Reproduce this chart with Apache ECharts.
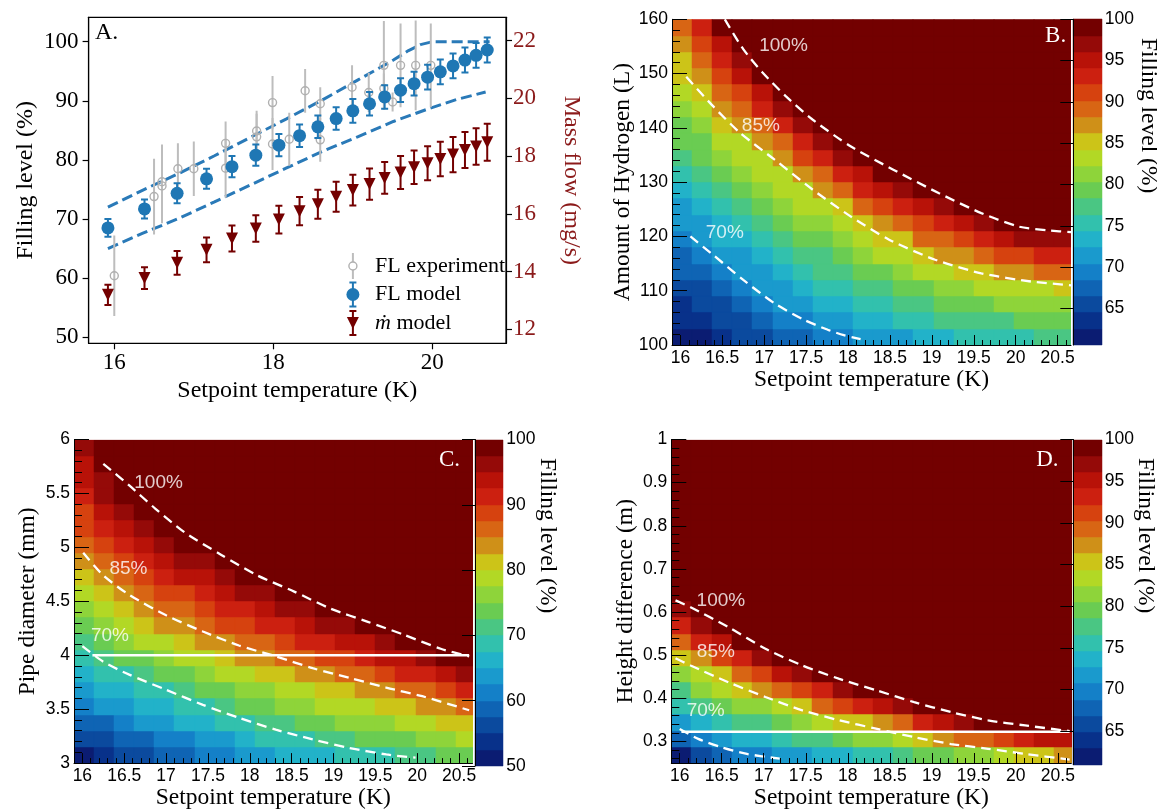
<!DOCTYPE html>
<html><head><meta charset="utf-8">
<script src="https://cdn.jsdelivr.net/npm/echarts@6/dist/echarts.min.js"></script>
<style>html,body{margin:0;padding:0;background:#fff;}#c{width:1157px;height:811px;}</style>
</head><body><div id="c"></div>
<script>
// ---------------- Panel A data ----------------
const modelT = [15.92,16.38,16.79,17.16,17.48,17.78,18.07,18.33,18.56,18.79,19.00,19.21,19.40,19.60,19.77,19.94,20.10,20.26,20.41,20.55,20.69];
const flModel = [68.5,71.7,74.35,76.8,78.85,80.8,82.5,84.1,85.6,87.0,88.3,89.5,90.65,91.8,92.9,94.0,94.9,95.9,96.9,97.7,98.6];
const flModelErr = [1.5,1.6,1.7,1.7,1.8,1.8,1.9,1.9,1.9,1.9,2.0,2.0,2.0,2.0,2.0,2.1,2.1,2.1,2.1,2.1,2.1];
const massFlow = [13.19,13.77,14.30,14.75,15.14,15.49,15.80,16.09,16.33,16.59,16.82,17.03,17.24,17.43,17.61,17.75,17.90,18.05,18.21,18.33,18.48];
const massFlowErr = [0.35,0.38,0.41,0.43,0.45,0.46,0.48,0.49,0.50,0.52,0.53,0.54,0.55,0.57,0.58,0.59,0.60,0.61,0.62,0.63,0.64];
const expT = [16.00,16.50,16.60,16.60,16.80,17.00,17.40,17.40,17.79,17.79,17.99,17.99,18.20,18.40,18.59,18.59,18.99,19.20,19.39,19.39,19.50,19.60,19.79,19.98];
const expFL = [60.4,73.8,75.6,76.3,78.5,78.5,78.6,82.8,83.9,84.9,82.7,89.7,83.5,91.7,83.4,89.5,92.3,91.4,92.1,96.0,89.8,96.0,96.0,96.0];
const expErr = [6.8,6.4,6.3,6.3,4.3,4.6,5.0,3.7,3.9,3.4,4.4,4.5,4.5,3.7,3.7,2.8,3.7,3.3,2.5,7.5,1.6,7.1,7.6,7.1];
const upperBandT = [15.92,16.36,16.81,17.26,17.71,18.16,18.61,19.06,19.51,19.70,19.85,20.00,20.72];
const upperBandFL = [72.0,74.9,77.7,80.7,83.8,86.9,90.1,93.5,96.9,98.5,99.5,100,100];
const lowerBandT = [15.92,16.36,16.81,17.26,17.71,18.16,18.61,19.06,19.51,19.96,20.30,20.67];
const lowerBandFL = [65.0,67.6,70.1,72.9,75.75,78.6,81.4,83.9,86.5,88.7,90.2,91.5];
const aXTicks = [16,18,20];
const aYTicks = [50,60,70,80,90,100];
const aY2Ticks = [12,14,16,18,20,22];

// ---------------- Heatmap data ----------------
const tempCols = [16.02,16.26,16.50,16.74,16.98,17.22,17.46,17.70,17.94,18.18,18.42,18.66,18.90,19.14,19.38,19.62,19.86,20.10,20.34,20.58];
const hydrogenRows = [101.5,104.5,107.5,110.5,113.5,116.5,119.5,122.5,125.5,128.5,131.5,134.5,137.5,140.5,143.5,146.5,149.5,152.5,155.5,158.5];
const fillB = [
[61.4,62.2,63.3,64.7,66.1,67.4,68.3,69.0,69.8,70.5,71.5,72.4,73.3,74.0,74.7,75.3,75.8,76.2,76.6,76.8],
[62.7,63.6,64.8,66.2,67.6,68.9,69.9,70.8,71.8,72.6,73.7,74.6,75.6,76.4,77.1,77.8,78.3,78.7,79.1,79.4],
[64.1,65.0,66.3,67.7,69.1,70.5,71.7,72.6,73.7,74.7,75.9,76.8,77.9,78.8,79.6,80.3,80.9,81.3,81.7,81.9],
[65.4,66.4,67.8,69.2,70.7,72.1,73.4,74.5,75.7,76.8,78.1,79.1,80.2,81.2,82.0,82.8,83.4,83.8,84.2,84.5],
[66.7,67.8,69.3,70.8,72.3,73.8,75.2,76.4,77.7,78.9,80.2,81.3,82.5,83.6,84.4,85.5,86.6,87.4,88.2,88.7],
[68.0,69.2,70.8,72.4,74.0,75.5,77.0,78.3,79.6,81.0,82.4,83.5,84.8,86.5,88.0,89.6,90.9,91.9,92.7,93.3],
[69.3,70.7,72.5,74.1,75.7,77.2,78.8,80.2,81.6,83.1,84.6,86.2,88.3,90.1,91.9,93.6,95.2,96.4,97.3,97.9],
[70.8,72.3,74.2,75.8,77.4,78.9,80.6,82.1,83.6,85.2,87.9,89.7,91.8,93.8,95.7,97.7,99.6,100,100,100],
[72.3,73.9,75.9,77.4,79.0,80.6,82.3,83.9,85.9,88.8,91.3,93.2,95.4,97.4,99.6,100,100,100,100,100],
[73.8,75.5,77.6,79.1,80.7,82.3,84.1,86.5,89.5,92.3,94.8,96.7,98.9,100,100,100,100,100,100,100],
[75.3,77.1,79.3,80.7,82.4,84.0,86.8,90.0,93.0,95.9,98.3,100,100,100,100,100,100,100,100,100],
[76.9,78.7,81.0,82.4,84.1,86.4,90.3,93.5,96.5,99.4,100,100,100,100,100,100,100,100,100,100],
[78.4,80.3,82.7,84.1,86.4,89.8,93.8,97.0,100,100,100,100,100,100,100,100,100,100,100,100],
[79.9,82.0,84.4,86.3,89.6,93.2,97.3,100,100,100,100,100,100,100,100,100,100,100,100,100],
[81.4,83.6,86.5,89.2,92.8,96.7,100,100,100,100,100,100,100,100,100,100,100,100,100,100],
[83.0,85.2,88.9,92.1,96.0,100,100,100,100,100,100,100,100,100,100,100,100,100,100,100],
[84.5,87.2,91.3,95.0,99.2,100,100,100,100,100,100,100,100,100,100,100,100,100,100,100],
[86.0,89.1,93.7,97.9,100,100,100,100,100,100,100,100,100,100,100,100,100,100,100,100],
[87.5,91.1,96.0,100,100,100,100,100,100,100,100,100,100,100,100,100,100,100,100,100],
[89.1,93.1,98.4,100,100,100,100,100,100,100,100,100,100,100,100,100,100,100,100,100]
];
const pipeRows = [3.075,3.225,3.375,3.525,3.675,3.825,3.975,4.125,4.275,4.425,4.575,4.725,4.875,5.025,5.175,5.325,5.475,5.625,5.775,5.925];
const fillC = [
[52.3,54.4,55.5,56.5,57.6,58.8,60.2,61.7,63.2,64.4,65.5,66.5,67.3,68.4,69.2,69.9,70.4,71.4,73.0,74.5],
[55.0,57.1,58.3,59.5,60.7,61.9,63.4,64.9,66.3,67.6,68.6,69.7,70.6,71.7,72.7,73.5,74.3,75.4,76.9,78.4],
[57.6,59.8,61.2,62.5,63.7,65.1,66.5,68.0,69.5,70.8,71.9,73.1,74.0,75.2,76.1,77.1,78.2,79.3,80.7,82.3],
[60.2,62.5,64.0,65.5,66.8,68.2,69.7,71.2,72.8,74.1,75.3,76.5,77.5,78.7,79.6,80.8,82.0,83.3,84.6,86.3],
[62.9,65.2,66.9,68.5,69.9,71.4,73.0,74.6,76.2,77.4,78.6,79.9,81.0,82.1,83.1,84.4,86.0,87.4,89.0,90.7],
[65.5,67.9,69.7,71.6,73.1,74.7,76.3,78.0,79.5,80.7,82.0,83.3,84.4,85.6,86.7,88.4,90.2,91.8,93.4,95.1],
[68.2,70.7,72.7,74.7,76.4,77.9,79.6,81.3,82.9,84.0,85.3,86.7,88.1,89.4,90.8,92.5,94.5,96.1,97.8,99.6],
[70.8,73.5,75.7,77.8,79.7,81.2,82.9,84.7,86.1,87.3,88.7,90.2,91.8,93.3,94.8,96.6,98.7,100,100,100],
[73.4,76.4,78.7,80.9,82.9,84.4,86.0,87.7,89.2,90.6,92.2,93.7,95.5,97.1,98.8,100,100,100,100,100],
[76.0,79.2,81.7,84.0,85.9,87.2,88.9,90.6,92.3,94.0,95.6,97.1,99.1,100,100,100,100,100,100,100],
[78.6,82.1,84.7,86.6,88.3,89.9,91.7,93.6,95.4,97.3,99.0,100,100,100,100,100,100,100,100,100],
[81.2,84.9,87.0,88.9,90.8,92.6,94.6,96.5,98.4,100,100,100,100,100,100,100,100,100,100,100],
[83.9,87.1,89.2,91.2,93.2,95.3,97.4,99.5,100,100,100,100,100,100,100,100,100,100,100,100],
[86.0,89.3,91.4,93.5,95.7,98.0,100,100,100,100,100,100,100,100,100,100,100,100,100,100],
[87.8,91.4,93.6,95.8,98.1,100,100,100,100,100,100,100,100,100,100,100,100,100,100,100],
[89.6,93.6,95.8,98.1,100,100,100,100,100,100,100,100,100,100,100,100,100,100,100,100],
[91.4,95.7,98.0,100,100,100,100,100,100,100,100,100,100,100,100,100,100,100,100,100],
[93.2,96.9,100,100,100,100,100,100,100,100,100,100,100,100,100,100,100,100,100,100],
[94.9,97.6,100,100,100,100,100,100,100,100,100,100,100,100,100,100,100,100,100,100],
[96.7,98.5,100,100,100,100,100,100,100,100,100,100,100,100,100,100,100,100,100,100]
];
const heightRows = [0.26875,0.30625,0.34375,0.38125,0.41875,0.45625,0.49375,0.53125,0.56875,0.60625,0.64375,0.68125,0.71875,0.75625,0.79375,0.83125,0.86875,0.90625,0.94375,0.98125];
const fillD = [
[61.6,65.5,67.9,69.4,70.5,71.4,72.4,73.4,74.4,75.4,76.5,77.6,78.8,80.0,81.1,82.1,83.2,84.5,85.9,87.0],
[67.0,70.3,71.9,73.2,74.5,75.6,77.0,78.2,79.5,80.7,82.1,83.5,85.0,86.9,88.4,90.0,91.5,93.0,94.4,95.5],
[71.5,73.7,75.4,76.9,78.4,79.8,81.6,83.0,84.6,86.1,88.0,90.0,92.2,94.4,96.2,98.4,100,100,100,100],
[75.0,77.2,79.0,80.6,82.4,84.0,86.3,88.3,90.4,92.3,94.4,96.8,99.3,100,100,100,100,100,100,100],
[78.4,80.6,82.5,84.4,86.7,89.0,91.7,94.0,96.2,98.5,100,100,100,100,100,100,100,100,100,100],
[81.9,84.0,86.3,88.9,91.7,94.3,97.1,99.6,100,100,100,100,100,100,100,100,100,100,100,100],
[85.4,88.0,90.7,93.6,96.6,99.5,100,100,100,100,100,100,100,100,100,100,100,100,100,100],
[89.6,92.2,95.1,98.3,100,100,100,100,100,100,100,100,100,100,100,100,100,100,100,100],
[93.7,96.4,99.5,100,100,100,100,100,100,100,100,100,100,100,100,100,100,100,100,100],
[97.9,100,100,100,100,100,100,100,100,100,100,100,100,100,100,100,100,100,100,100],
[100,100,100,100,100,100,100,100,100,100,100,100,100,100,100,100,100,100,100,100],
[100,100,100,100,100,100,100,100,100,100,100,100,100,100,100,100,100,100,100,100],
[100,100,100,100,100,100,100,100,100,100,100,100,100,100,100,100,100,100,100,100],
[100,100,100,100,100,100,100,100,100,100,100,100,100,100,100,100,100,100,100,100],
[100,100,100,100,100,100,100,100,100,100,100,100,100,100,100,100,100,100,100,100],
[100,100,100,100,100,100,100,100,100,100,100,100,100,100,100,100,100,100,100,100],
[100,100,100,100,100,100,100,100,100,100,100,100,100,100,100,100,100,100,100,100],
[100,100,100,100,100,100,100,100,100,100,100,100,100,100,100,100,100,100,100,100],
[100,100,100,100,100,100,100,100,100,100,100,100,100,100,100,100,100,100,100,100],
[100,100,100,100,100,100,100,100,100,100,100,100,100,100,100,100,100,100,100,100]
];
// contour lines
const contourB100 = [[16.53,160],[16.75,154.5],[16.98,150.2],[17.26,145.8],[17.58,141.5],[18.03,136.6],[18.54,132.3],[19.08,128],[19.59,124.3],[20.04,121.8],[20.40,121.1],[20.66,120.8]];
const contourB85 = [[16.07,149.4],[16.39,144],[16.71,139.1],[17.12,134.2],[17.58,128.6],[18.03,123.7],[18.49,119.4],[19.04,115.7],[19.59,113.2],[20.18,111.7],[20.66,111]];
const contourB70 = [[16.12,120],[16.39,116.6],[16.75,112],[17.12,107.7],[17.48,104.6],[17.76,102.8],[17.95,101.8],[18.15,101.1]];
const contourC100 = [[16.25,5.775],[16.56,5.574],[16.87,5.36],[17.22,5.14],[17.66,4.93],[18.09,4.74],[18.53,4.59],[18.97,4.43],[19.41,4.31],[19.84,4.19],[20.28,4.06],[20.62,3.99]];
const contourC85 = [[16.01,4.95],[16.25,4.74],[16.56,4.56],[17.0,4.37],[17.44,4.22],[17.87,4.09],[18.31,3.99],[18.75,3.88],[19.19,3.79],[19.63,3.70],[20.06,3.62],[20.62,3.49]];
const contourC70 = [[16.0,4.085],[16.25,3.94],[16.56,3.82],[17.0,3.68],[17.44,3.54],[17.87,3.42],[18.31,3.31],[18.75,3.22],[19.19,3.14],[19.63,3.08],[19.98,3.05]];
const lineC = [[16.12,4.0],[20.62,4.0]];
const contourD100 = [[15.95,0.627],[16.13,0.611],[16.58,0.565],[17.02,0.515],[17.46,0.476],[17.9,0.445],[18.35,0.418],[18.79,0.391],[19.23,0.368],[19.67,0.349],[20.11,0.337],[20.64,0.324]];
const contourD85 = [[15.95,0.493],[16.13,0.476],[16.58,0.437],[17.02,0.403],[17.46,0.372],[17.9,0.349],[18.35,0.329],[18.79,0.31],[19.23,0.294],[19.67,0.283],[20.11,0.271],[20.64,0.258]];
const contourD70 = [[16.0,0.329],[16.22,0.306],[16.49,0.287],[16.8,0.271],[17.19,0.26]];
const lineD = [[16.02,0.3225],[20.64,0.3225]];
const labelsB = [[17.23,155.1,'100%'],[16.96,140.4,'85%'],[16.53,120.7,'70%']];
const labelsC = [[16.91,5.596,'100%'],[16.55,4.80,'85%'],[16.33,4.18,'70%']];
const labelsD = [[16.49,0.625,'100%'],[16.43,0.507,'85%'],[16.31,0.372,'70%']];
// ticks
const hxMajor = [16,16.5,17,17.5,18,18.5,19,19.5,20,20.5];
const hxMinor = [16.1,16.2,16.3,16.4,16.6,16.7,16.8,16.9,17.1,17.2,17.3,17.4,17.6,17.7,17.8,17.9,18.1,18.2,18.3,18.4,18.6,18.7,18.8,18.9,19.1,19.2,19.3,19.4,19.6,19.7,19.8,19.9,20.1,20.2,20.3,20.4,20.6];
const byMajor = [100,110,120,130,140,150,160];
const byMinor = [102,104,106,108,112,114,116,118,122,124,126,128,132,134,136,138,142,144,146,148,152,154,156,158];
const cyMajor = [3,3.5,4,4.5,5,5.5,6];
const cyMinor = [3.1,3.2,3.3,3.4,3.6,3.7,3.8,3.9,4.1,4.2,4.3,4.4,4.6,4.7,4.8,4.9,5.1,5.2,5.3,5.4,5.6,5.7,5.8,5.9];
const dyMajor = [0.3,0.4,0.5,0.6,0.7,0.8,0.9,1];
const dyMinor = [0.26,0.28,0.32,0.34,0.36,0.38,0.42,0.44,0.46,0.48,0.52,0.54,0.56,0.58,0.62,0.64,0.66,0.68,0.72,0.74,0.76,0.78,0.82,0.84,0.86,0.88,0.92,0.94,0.96,0.98];
const cbTicksB = [65,70,75,80,85,90,95,100];
const cbTicksC = [50,60,70,80,90,100];
const cbTicksD = [65,70,75,80,85,90,95,100];

const palette = ['#0b1c72','#08318a','#0b4a9e','#0f64b4','#1480c8','#1a9acd','#22b2c9','#32c1ad','#4ac683','#6acc52','#8ed43a','#b2d825','#ccc418','#cf9018','#d86514','#d6420f','#cc2010','#b81208','#950a08','#730000'];

const SERIF = '"Liberation Serif", "DejaVu Serif", serif';
const SANS = '"Liberation Sans", Arial, sans-serif';
const fmt = v => String(Math.round(v * 100) / 100);

function colorFor(v, vmin, vmax) {
  let k = Math.floor((v - vmin) / (vmax - vmin) * palette.length);
  k = Math.max(0, Math.min(palette.length - 1, k));
  return palette[k];
}
function pixRect(a, b) {
  const x0 = Math.round(a[0]), y0 = Math.round(a[1]), x1 = Math.round(b[0]), y1 = Math.round(b[1]);
  return {x: x0, y: y0, width: x1 - x0, height: y1 - y0};
}
function heatSeries(xi, yi, rows, grid, dx, dy, vmin, vmax) {
  const data = [];
  rows.forEach((y, r) => tempCols.forEach((x, c) => data.push([x, y, grid[r][c]])));
  return {
    type: 'custom', xAxisIndex: xi, yAxisIndex: yi, clip: true, silent: true, z: 1,
    encode: {x: 0, y: 1}, data,
    renderItem: function (params, api) {
      const x = api.value(0), y = api.value(1), v = api.value(2);
      const a = api.coord([x - dx / 2, y + dy / 2]);
      const b = api.coord([x + dx / 2, y - dy / 2]);
      const c = colorFor(v, vmin, vmax);
      return {type: 'rect', shape: pixRect(a, b), style: {fill: c, stroke: c, lineWidth: 0.5}};
    }
  };
}
function colorbarSeries(xi, yi, vmin, vmax) {
  const step = (vmax - vmin) / palette.length;
  return {
    type: 'custom', xAxisIndex: xi, yAxisIndex: yi, silent: true, z: 1,
    encode: {x: 0, y: 1},
    data: palette.map((c, k) => [0.5, vmin + (k + 0.5) * step, k]),
    renderItem: function (params, api) {
      const k = api.value(2);
      const a = api.coord([0, vmin + (k + 1) * step]);
      const b = api.coord([1, vmin + k * step]);
      return {type: 'rect', shape: pixRect(a, b), style: {fill: palette[k], stroke: palette[k], lineWidth: 0.5}};
    }
  };
}
function contourSeries(xi, yi, pts, dashed) {
  return {type: 'line', xAxisIndex: xi, yAxisIndex: yi, data: pts, showSymbol: false, symbol: 'none', smooth: dashed ? 0.25 : false,
    silent: true, z: 5, lineStyle: {color: '#fff', width: 2.3, type: dashed ? [10, 6] : 'solid'}};
}
function labelSeries(xi, yi, labels) {
  return {type: 'scatter', xAxisIndex: xi, yAxisIndex: yi, symbolSize: 1, silent: true, z: 6,
    itemStyle: {color: 'rgba(0,0,0,0)'},
    data: labels.map(l => ({value: [l[0], l[1]], name: l[2]})),
    label: {show: true, position: 'inside', formatter: p => p.name, color: '#fff', fontFamily: SANS, fontSize: 19}};
}
function errSeries(xi, yi, xs, ys, es, color, cap, width, z) {
  return {type: 'custom', xAxisIndex: xi, yAxisIndex: yi, clip: true, silent: true, z: z,
    encode: {x: 0, y: [1, 2]},
    data: xs.map((x, i) => [x, ys[i] - es[i], ys[i] + es[i]]),
    renderItem: function (params, api) {
      const lo = api.coord([api.value(0), api.value(1)]);
      const hi = api.coord([api.value(0), api.value(2)]);
      const st = {stroke: color, lineWidth: width};
      const ch = [{type: 'line', shape: {x1: lo[0], y1: lo[1], x2: hi[0], y2: hi[1]}, style: st}];
      if (cap) {
        ch.push({type: 'line', shape: {x1: lo[0] - cap / 2, y1: lo[1], x2: lo[0] + cap / 2, y2: lo[1]}, style: st});
        ch.push({type: 'line', shape: {x1: hi[0] - cap / 2, y1: hi[1], x2: hi[0] + cap / 2, y2: hi[1]}, style: st});
      }
      return {type: 'group', children: ch};
    }};
}
function heatX(g, name, gap) {
  return [
    {gridIndex: g, type: 'value', min: 15.9, max: 20.66, position: 'bottom', z: 10,
      axisLine: {show: true, onZero: false, lineStyle: {color: '#000', width: 1}},
      axisTick: {show: true, inside: true, length: 10, customValues: hxMajor, lineStyle: {color: '#000', width: 1}},
      axisLabel: {show: true, customValues: hxMajor, margin: 4, color: '#000', fontFamily: SANS, fontSize: 17.5, formatter: fmt},
      splitLine: {show: false},
      name: name, nameLocation: 'middle', nameGap: gap, nameTextStyle: {fontFamily: SERIF, fontSize: 23.5, color: '#000'}},
    {gridIndex: g, type: 'value', min: 15.9, max: 20.66, position: 'bottom', z: 10,
      axisLine: {show: false}, axisLabel: {show: false}, splitLine: {show: false},
      axisTick: {show: true, inside: true, length: 5, customValues: hxMinor, lineStyle: {color: '#000', width: 1}}}
  ];
}
function heatY(g, min, max, major, minor, name, gap) {
  return [
    {gridIndex: g, type: 'value', min: min, max: max, position: 'left', z: 10,
      axisLine: {show: true, onZero: false, lineStyle: {color: '#000', width: 1}},
      axisTick: {show: true, inside: true, length: 15, customValues: major, lineStyle: {color: '#000', width: 1}},
      axisLabel: {show: true, customValues: major, margin: 4, color: '#000', fontFamily: SANS, fontSize: 17.5, formatter: fmt},
      splitLine: {show: false},
      name: name, nameLocation: 'middle', nameGap: gap, nameTextStyle: {fontFamily: SERIF, fontSize: 23.5, color: '#000'}},
    {gridIndex: g, type: 'value', min: min, max: max, position: 'left', z: 10,
      axisLine: {show: false}, axisLabel: {show: false}, splitLine: {show: false},
      axisTick: {show: true, inside: true, length: 8, customValues: minor, lineStyle: {color: '#000', width: 1}}}
  ];
}
function cbX(g) { return {gridIndex: g, type: 'value', min: 0, max: 1, show: false}; }
function cbY(g, vmin, ticks) {
  return {gridIndex: g, type: 'value', min: vmin, max: 100, position: 'right', z: 10,
    axisLine: {show: true, lineStyle: {color: '#000', width: 1}},
    axisTick: {show: true, inside: true, length: 13, customValues: ticks, lineStyle: {color: '#000', width: 1}},
    axisLabel: {show: true, customValues: ticks, margin: 3, color: '#000', fontFamily: SANS, fontSize: 17.5, formatter: fmt},
    splitLine: {show: false}};
}

const VB = 60.6, VC = 50, VD = 61;
const xAxes = [
  {gridIndex: 0, type: 'value', min: 15.677, max: 20.926, position: 'bottom',
    axisLine: {onZero: false, lineStyle: {color: '#000', width: 1.2}},
    axisTick: {customValues: aXTicks, length: 6, lineStyle: {color: '#000', width: 1.2}},
    axisLabel: {customValues: aXTicks, margin: 8, color: '#000', fontFamily: SERIF, fontSize: 23, formatter: fmt},
    splitLine: {show: false},
    name: 'Setpoint temperature (K)', nameLocation: 'middle', nameGap: 35, nameTextStyle: {fontFamily: SERIF, fontSize: 24, color: '#000'}},
  ...heatX(1, 'Setpoint temperature (K)', 23),
  cbX(2),
  ...heatX(3, 'Setpoint temperature (K)', 22),
  cbX(4),
  ...heatX(5, 'Setpoint temperature (K)', 23),
  cbX(6)
];
const yAxes = [
  {gridIndex: 0, type: 'value', min: 48.97, max: 104.13, position: 'left',
    axisLine: {onZero: false, lineStyle: {color: '#000', width: 1.2}},
    axisTick: {customValues: aYTicks, length: 6, lineStyle: {color: '#000', width: 1.2}},
    axisLabel: {customValues: aYTicks, margin: 10, color: '#000', fontFamily: SERIF, fontSize: 23, formatter: fmt},
    splitLine: {show: false},
    name: 'Filling level (%)', nameLocation: 'middle', nameGap: 51, nameTextStyle: {fontFamily: SERIF, fontSize: 24, color: '#000'}},
  {gridIndex: 0, type: 'value', min: 11.51, max: 22.81, position: 'right',
    axisLine: {onZero: false, lineStyle: {color: '#000', width: 1.2}},
    axisTick: {customValues: aY2Ticks, length: 6, lineStyle: {color: '#000', width: 1.2}},
    axisLabel: {customValues: aY2Ticks, margin: 7, color: '#8b1a1a', fontFamily: SERIF, fontSize: 23, formatter: fmt},
    splitLine: {show: false},
    name: 'Mass flow (mg/s)', nameLocation: 'middle', nameGap: 53, nameRotate: -90, nameTextStyle: {fontFamily: SERIF, fontSize: 24, color: '#8b1a1a'}},
  ...heatY(1, 100, 160, byMajor, byMinor, 'Amount of Hydrogen (L)', 37),
  cbY(2, VB, cbTicksB),
  ...heatY(3, 3, 6, cyMajor, cyMinor, 'Pipe diameter (mm)', 34),
  cbY(4, VC, cbTicksC),
  ...heatY(5, 0.25, 1, dyMajor, dyMinor, 'Height difference (m)', 33),
  cbY(6, VD, cbTicksD)
];

const series = [
  {type: 'line', xAxisIndex: 0, yAxisIndex: 0, data: upperBandT.map((t, i) => [t, upperBandFL[i]]), showSymbol: false, symbol: 'none', silent: true, z: 2,
    lineStyle: {color: '#2a7ab8', width: 3, type: [11, 5]}},
  {type: 'line', xAxisIndex: 0, yAxisIndex: 0, data: lowerBandT.map((t, i) => [t, lowerBandFL[i]]), showSymbol: false, symbol: 'none', silent: true, z: 2,
    lineStyle: {color: '#2a7ab8', width: 3, type: [11, 5]}},
  errSeries(0, 0, expT, expFL, expErr, '#bdbdbd', 0, 2, 3),
  {type: 'scatter', xAxisIndex: 0, yAxisIndex: 0, data: expT.map((t, i) => [t, expFL[i]]), symbol: 'circle', symbolSize: 8, silent: true, z: 3,
    itemStyle: {color: 'rgba(255,255,255,0)', borderColor: '#b0b0b0', borderWidth: 1.4, opacity: 1}},
  errSeries(0, 0, modelT, flModel, flModelErr, '#1f77b4', 7, 2, 4),
  {type: 'scatter', xAxisIndex: 0, yAxisIndex: 0, data: modelT.map((t, i) => [t, flModel[i]]), symbol: 'circle', symbolSize: 13, silent: true, z: 4,
    itemStyle: {color: '#1f77b4', opacity: 1}},
  errSeries(0, 1, modelT, massFlow, massFlowErr, '#740000', 7, 2, 4),
  {type: 'scatter', xAxisIndex: 0, yAxisIndex: 1, data: modelT.map((t, i) => [t, massFlow[i]]), symbol: 'triangle', symbolRotate: 180, symbolSize: 12, silent: true, z: 4,
    itemStyle: {color: '#740000', opacity: 1}},
  heatSeries(1, 2, hydrogenRows, fillB, 0.24, 3, VB, 100),
  contourSeries(1, 2, contourB100, true), contourSeries(1, 2, contourB85, true), contourSeries(1, 2, contourB70, true),
  labelSeries(1, 2, labelsB),
  colorbarSeries(3, 4, VB, 100),
  heatSeries(4, 5, pipeRows, fillC, 0.24, 0.15, VC, 100),
  contourSeries(4, 5, contourC100, true), contourSeries(4, 5, contourC85, true), contourSeries(4, 5, contourC70, true),
  contourSeries(4, 5, lineC, false),
  labelSeries(4, 5, labelsC),
  colorbarSeries(6, 7, VC, 100),
  heatSeries(7, 8, heightRows, fillD, 0.24, 0.0375, VD, 100),
  contourSeries(7, 8, contourD100, true), contourSeries(7, 8, contourD85, true), contourSeries(7, 8, contourD70, true),
  contourSeries(7, 8, lineD, false),
  labelSeries(7, 8, labelsD),
  colorbarSeries(9, 10, VD, 100)
];

const lx = 352.9, ly = [266, 294.5, 323];
const graphic = [
  {type: 'text', x: 95, y: 33, z: 100, style: {text: 'A.', font: '24px ' + SERIF, fill: '#000', verticalAlign: 'middle'}},
  {type: 'text', x: 1055.6, y: 36, z: 100, style: {text: 'B.', font: '23px ' + SERIF, fill: '#fff', align: 'center', verticalAlign: 'middle'}},
  {type: 'text', x: 449.5, y: 459.5, z: 100, style: {text: 'C.', font: '23px ' + SERIF, fill: '#fff', align: 'center', verticalAlign: 'middle'}},
  {type: 'text', x: 1047.4, y: 460, z: 100, style: {text: 'D.', font: '23px ' + SERIF, fill: '#fff', align: 'center', verticalAlign: 'middle'}},
  {type: 'text', x: 1148, y: 38, rotation: -Math.PI / 2, z: 100, style: {text: 'Filling level (%)', font: '23.5px ' + SERIF, fill: '#000', align: 'left', verticalAlign: 'middle'}},
  {type: 'text', x: 547.5, y: 458, rotation: -Math.PI / 2, z: 100, style: {text: 'Filling level (%)', font: '23.5px ' + SERIF, fill: '#000', align: 'left', verticalAlign: 'middle'}},
  {type: 'text', x: 1145.5, y: 458, rotation: -Math.PI / 2, z: 100, style: {text: 'Filling level (%)', font: '23.5px ' + SERIF, fill: '#000', align: 'left', verticalAlign: 'middle'}},
  {type: 'line', z: 100, shape: {x1: lx, y1: ly[0] - 13, x2: lx, y2: ly[0] + 13}, style: {stroke: '#bdbdbd', lineWidth: 2}},
  {type: 'circle', z: 101, shape: {cx: lx, cy: ly[0], r: 4}, style: {fill: '#fff', stroke: '#b0b0b0', lineWidth: 1.4}},
  {type: 'line', z: 100, shape: {x1: lx, y1: ly[1] - 12, x2: lx, y2: ly[1] + 12}, style: {stroke: '#1f77b4', lineWidth: 2}},
  {type: 'line', z: 100, shape: {x1: lx - 3.5, y1: ly[1] - 12, x2: lx + 3.5, y2: ly[1] - 12}, style: {stroke: '#1f77b4', lineWidth: 2}},
  {type: 'line', z: 100, shape: {x1: lx - 3.5, y1: ly[1] + 12, x2: lx + 3.5, y2: ly[1] + 12}, style: {stroke: '#1f77b4', lineWidth: 2}},
  {type: 'circle', z: 101, shape: {cx: lx, cy: ly[1], r: 6.5}, style: {fill: '#1f77b4'}},
  {type: 'line', z: 100, shape: {x1: lx, y1: ly[2] - 12, x2: lx, y2: ly[2] + 12}, style: {stroke: '#740000', lineWidth: 2}},
  {type: 'line', z: 100, shape: {x1: lx - 3.5, y1: ly[2] - 12, x2: lx + 3.5, y2: ly[2] - 12}, style: {stroke: '#740000', lineWidth: 2}},
  {type: 'line', z: 100, shape: {x1: lx - 3.5, y1: ly[2] + 12, x2: lx + 3.5, y2: ly[2] + 12}, style: {stroke: '#740000', lineWidth: 2}},
  {type: 'polygon', z: 101, shape: {points: [[lx - 6, ly[2] - 6], [lx + 6, ly[2] - 6], [lx, ly[2] + 6]]}, style: {fill: '#740000'}},
  {type: 'text', x: 375, y: ly[0], z: 100, style: {text: 'FL experiment', font: '22px ' + SERIF, fill: '#000', verticalAlign: 'middle'}},
  {type: 'text', x: 375, y: ly[1], z: 100, style: {text: 'FL model', font: '22px ' + SERIF, fill: '#000', verticalAlign: 'middle'}},
  {type: 'text', x: 375, y: ly[2], z: 100, style: {text: '{i|ṁ} model', font: '22px ' + SERIF, fill: '#000', verticalAlign: 'middle',
    rich: {i: {fontStyle: 'italic', fontFamily: SERIF, fontSize: 22}}}}
];

const chart = echarts.init(document.getElementById('c'), null, {renderer: 'canvas'});
chart.setOption({
  animation: false,
  backgroundColor: '#fff',
  textStyle: {fontFamily: SANS},
  grid: [
    {left: 88.6, top: 17.3, width: 417.4, height: 326, show: true, borderColor: '#000', borderWidth: 1.2, backgroundColor: 'rgba(0,0,0,0)'},
    {left: 672, top: 19.3, width: 399, height: 325.7},
    {left: 1073.3, top: 19.3, width: 28.4, height: 325.7},
    {left: 74, top: 439.5, width: 398.5, height: 326.5},
    {left: 475, top: 439.5, width: 28.3, height: 326.5},
    {left: 671.3, top: 439.5, width: 400, height: 325},
    {left: 1073.3, top: 439.5, width: 28.4, height: 325}
  ],
  xAxis: xAxes,
  yAxis: yAxes,
  series: series,
  graphic: graphic
});
</script></body></html>
